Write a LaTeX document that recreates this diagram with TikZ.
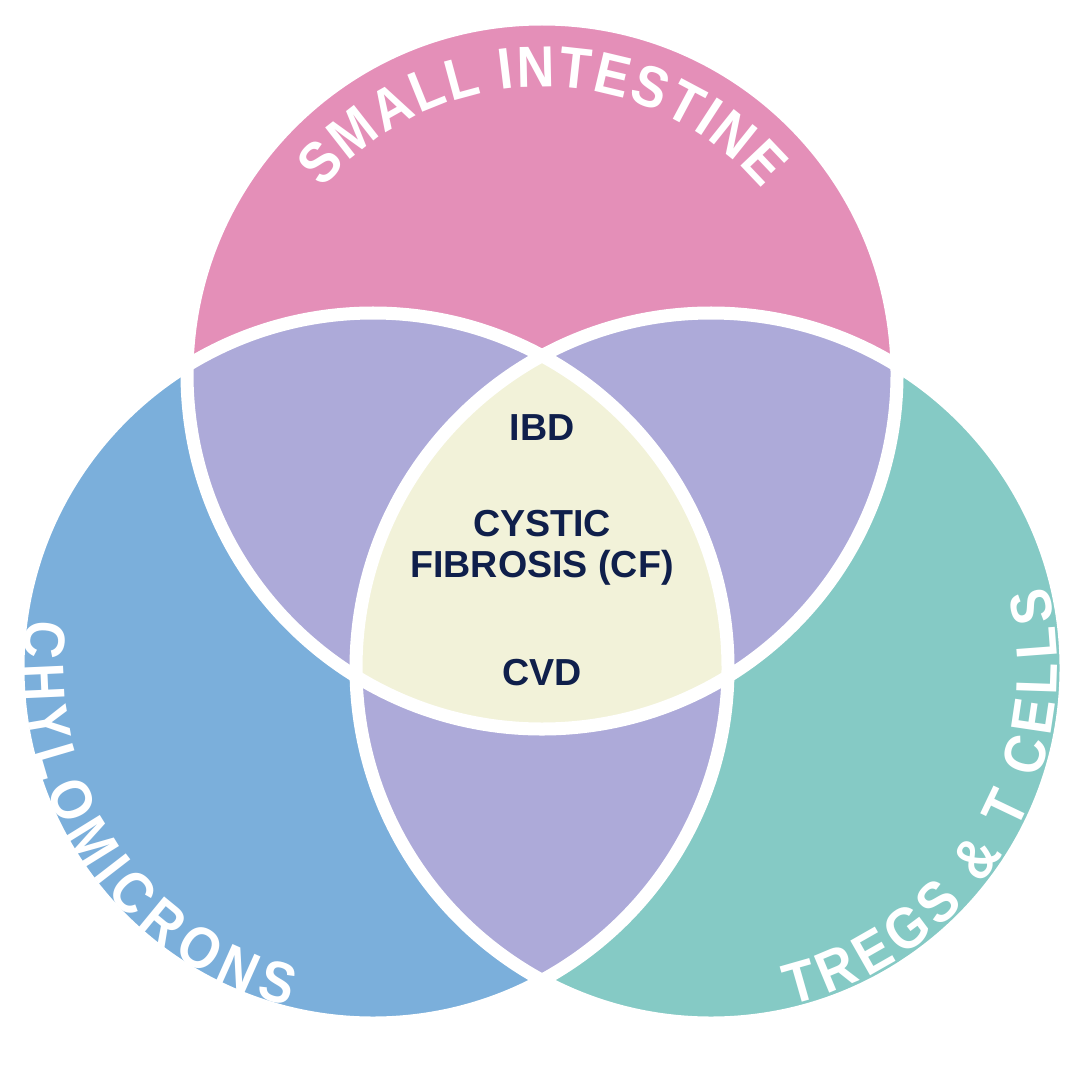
\documentclass[tikz,border=0pt]{standalone}
\usepackage{fontspec}
\setmainfont{Liberation Sans}
\newfontfamily\arcfam{Liberation Sans Bold}
\definecolor{pinkc}{HTML}{E48FB8}
\definecolor{bluec}{HTML}{7BAFDB}
\definecolor{tealc}{HTML}{85CAC5}
\definecolor{purplec}{HTML}{ADAAD9}
\definecolor{yellowc}{HTML}{F2F2D9}
\definecolor{navyc}{HTML}{0F1F4B}
\tikzset{
  midlabel/.style={font=\bfseries\fontsize{10.7}{11.6}\selectfont, text=navyc, align=center, inner sep=0pt},
  ringline/.style={draw=white, line width=0.13cm},
  arcletter/.style={font=\arcfam\fontsize{16.5}{19}\selectfont, text=white, anchor=base, inner sep=0pt, outer sep=0pt}
}
\begin{document}
\begin{tikzpicture}[x=0.01cm,y=0.01cm]
\useasboundingbox[fill=white] (0,0) rectangle (1080,1066);
\coordinate (cT) at (542,692);
\coordinate (cL) at (373,398);
\coordinate (cR) at (711,398);
\def\R{355}
% base circles
\fill[pinkc] (cT) circle[radius=\R];
\fill[bluec] (cL) circle[radius=\R];
\fill[tealc] (cR) circle[radius=\R];
% pairwise overlaps
\begin{scope}
  \clip (cT) circle[radius=\R];
  \fill[purplec] (cL) circle[radius=\R];
  \fill[purplec] (cR) circle[radius=\R];
\end{scope}
\begin{scope}
  \clip (cL) circle[radius=\R];
  \fill[purplec] (cR) circle[radius=\R];
\end{scope}
% triple overlap
\begin{scope}
  \clip (cT) circle[radius=\R];
  \clip (cL) circle[radius=\R];
  \fill[yellowc] (cR) circle[radius=\R];
\end{scope}
% white outlines
\path[ringline] (cT) circle[radius=\R];
\path[ringline] (cL) circle[radius=\R];
\path[ringline] (cR) circle[radius=\R];
% curved label: SMALL INTESTINE (clockwise, letters upright outward)
\foreach \ch/\a [count=\i] in {S/136.45, M/128.08, A/119.43, L/111.98, L/105.13,
    I/96.86, N/91.22, T/83.77, E/76.61, S/69.15, T/61.99, I/56.95, N/51.31, E/43.55}
  \node[arcletter, rotate=\a-90, xscale=0.9] (si\i) at ([shift={(\a:287)}]cT) {\ch};
% curved label: CHYLOMICRONS (counter-clockwise, letters facing inward)
\foreach \ch/\a [count=\i] in {C/175.10, H/182.53, Y/189.72, L/196.41, O/203.59, M/211.78,
    I/217.72, C/223.16, R/230.59, O/238.27, N/245.95, S/253.13}
  \node[arcletter, rotate=\a+90, xscale=0.9] (ch\i) at ([shift={(\a:349)}]cL) {\ch};
% curved label: TREGS & T CELLS (counter-clockwise, letters facing inward)
\foreach \ch/\a [count=\i] in {T/-74.10, R/-67.34, E/-60.32, G/-53.05, S/-45.77, \&/-35.50,
    T/-25.49, C/-15.47, E/-8.46, L/-1.94, L/4.32, S/10.84}
  \node[arcletter, rotate=\a+90, xscale=0.9] (tc\i) at ([shift={(\a:346)}]cR) {\ch};
% centre labels
\node[midlabel] (ibd) at (542,638) {IBD};
\node[midlabel] (cf) at (542,518) {CYSTIC\\FIBROSIS (CF)};
\node[midlabel] (cvd) at (542,393) {CVD};
\end{tikzpicture}
\end{document}
